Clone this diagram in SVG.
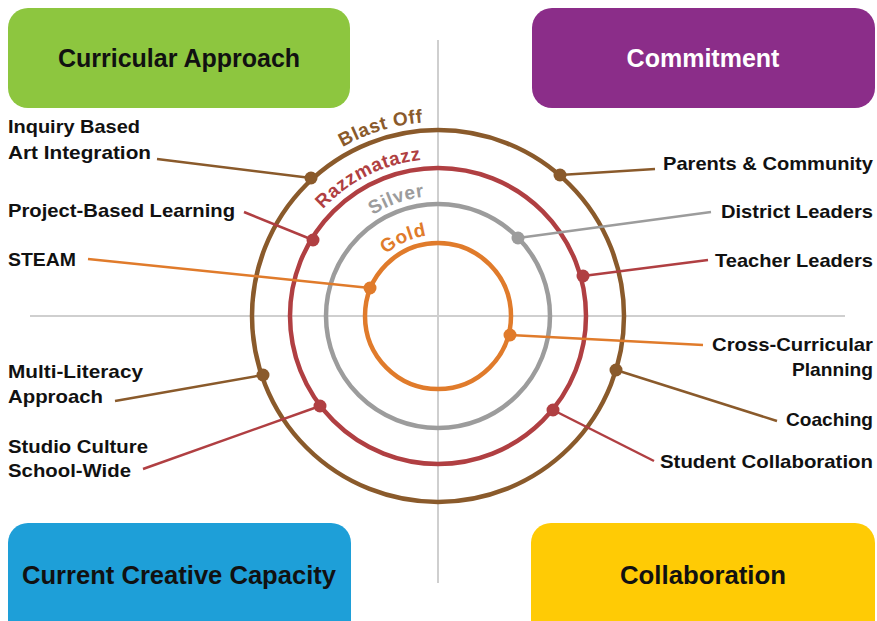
<svg xmlns="http://www.w3.org/2000/svg" width="877" height="621" viewBox="0 0 877 621">
<style>
.box-t{font-family:"Liberation Sans",Arial,sans-serif;font-weight:bold;font-size:25px;text-anchor:middle}
.lbl{font-family:"Liberation Sans",Arial,sans-serif;font-weight:bold;font-size:19px;fill:#111}
.r{text-anchor:end}
.ring{fill:none;stroke-width:4.5}
.arc{font-family:"Liberation Sans",Arial,sans-serif;font-weight:bold;font-size:19px;text-anchor:middle;letter-spacing:0.6px}
.ln{stroke-width:2.5;fill:none}
.axis{stroke:#cfcfcf;stroke-width:2}
.brown{stroke:#8A5A2B}.red{stroke:#B03F42}.gray{stroke:#9C9C9C}.orange{stroke:#E07B2B}
.fbrown{fill:#8A5A2B}.fred{fill:#B03F42}.fgray{fill:#9C9C9C}.forange{fill:#E07B2B}
</style>
<defs>
<path id="pBlast" d="M244,316 A194,194 0 0 1 632,316"/>
<path id="pRazz" d="M281,316 A157,157 0 0 1 595,316"/>
<path id="pSilver" d="M318,316 A120,120 0 0 1 558,316"/>
<path id="pGold" d="M357,316 A81,81 0 0 1 519,316"/>
</defs>
<rect width="877" height="621" fill="#fff"/>
<g id="axes">
<line class="axis" x1="438" y1="40" x2="438" y2="583"/>
<line class="axis" x1="30" y1="316" x2="845" y2="316"/>
</g>
<g id="box-curricular">
<rect x="8" y="8" width="342" height="100" rx="20" fill="#8DC63F"/>
<text class="box-t" x="179" y="67" fill="#111">Curricular Approach</text>
</g>
<g id="box-commitment">
<rect x="532" y="8" width="343" height="100" rx="20" fill="#8B2D89"/>
<text class="box-t" x="703" y="67" fill="#fff">Commitment</text>
</g>
<g id="box-capacity">
<rect x="8" y="523" width="343" height="120" rx="20" fill="#1E9FD8"/>
<text class="box-t" x="179" y="584" fill="#111" textLength="314" lengthAdjust="spacingAndGlyphs">Current Creative Capacity</text>
</g>
<g id="box-collaboration">
<rect x="531" y="523" width="344" height="120" rx="20" fill="#FFCB05"/>
<text class="box-t" x="703" y="584" fill="#111" textLength="166" lengthAdjust="spacingAndGlyphs">Collaboration</text>
</g>
<g id="rings">
<circle class="ring brown" cx="438" cy="316" r="186"/>
<circle class="ring red" cx="438" cy="316" r="148"/>
<circle class="ring gray" cx="438" cy="316" r="112"/>
<circle class="ring orange" cx="438" cy="316" r="73"/>
<text class="arc fbrown"><textPath href="#pBlast" startOffset="40.6%">Blast Off</textPath></text>
<text class="arc fred"><textPath href="#pRazz" startOffset="35.2%">Razzmatazz</textPath></text>
<text class="arc fgray"><textPath href="#pSilver" startOffset="39.1%">Silver</textPath></text>
<text class="arc forange"><textPath href="#pGold" startOffset="36.6%">Gold</textPath></text>
</g>
<g id="connectors">
<line class="ln brown" x1="157" y1="159" x2="311" y2="178"/>
<line class="ln red" x1="244" y1="212" x2="313" y2="240"/>
<line class="ln orange" x1="88" y1="259" x2="370" y2="288"/>
<line class="ln brown" x1="655" y1="169" x2="560" y2="175"/>
<line class="ln gray" x1="711" y1="212" x2="518" y2="238"/>
<line class="ln red" x1="708" y1="260" x2="583" y2="276"/>
<line class="ln orange" x1="703" y1="345" x2="510" y2="335"/>
<line class="ln brown" x1="777" y1="421" x2="616" y2="370"/>
<line class="ln red" x1="654" y1="461" x2="553" y2="410"/>
<line class="ln brown" x1="115" y1="401" x2="263" y2="375"/>
<line class="ln red" x1="143" y1="469" x2="320" y2="406"/>
<circle class="fbrown" cx="311" cy="178" r="6.5"/>
<circle class="fred" cx="313" cy="240" r="6.5"/>
<circle class="forange" cx="370" cy="288" r="6.5"/>
<circle class="fbrown" cx="560" cy="175" r="6.5"/>
<circle class="fgray" cx="518" cy="238" r="6.5"/>
<circle class="fred" cx="583" cy="276" r="6.5"/>
<circle class="forange" cx="510" cy="335" r="6.5"/>
<circle class="fbrown" cx="616" cy="370" r="6.5"/>
<circle class="fred" cx="553" cy="410" r="6.5"/>
<circle class="fbrown" cx="263" cy="375" r="6.5"/>
<circle class="fred" cx="320" cy="406" r="6.5"/>
</g>
<g id="lbl-inquiry"><text class="lbl" x="8" y="133" textLength="132" lengthAdjust="spacingAndGlyphs">Inquiry Based</text><text class="lbl" x="8" y="159" textLength="143" lengthAdjust="spacingAndGlyphs">Art Integration</text></g>
<g id="lbl-project"><text class="lbl" x="8" y="217" textLength="227" lengthAdjust="spacingAndGlyphs">Project-Based Learning</text></g>
<g id="lbl-steam"><text class="lbl" x="8" y="266" textLength="68" lengthAdjust="spacingAndGlyphs">STEAM</text></g>
<g id="lbl-parents"><text class="lbl r" x="873" y="170" textLength="210" lengthAdjust="spacingAndGlyphs">Parents &amp; Community</text></g>
<g id="lbl-district"><text class="lbl r" x="873" y="218" textLength="152" lengthAdjust="spacingAndGlyphs">District Leaders</text></g>
<g id="lbl-teacher"><text class="lbl r" x="873" y="267" textLength="158" lengthAdjust="spacingAndGlyphs">Teacher Leaders</text></g>
<g id="lbl-cross"><text class="lbl r" x="873" y="351" textLength="161" lengthAdjust="spacingAndGlyphs">Cross-Curricular</text><text class="lbl r" x="873" y="376" textLength="81" lengthAdjust="spacingAndGlyphs">Planning</text></g>
<g id="lbl-coaching"><text class="lbl r" x="873" y="426" textLength="87" lengthAdjust="spacingAndGlyphs">Coaching</text></g>
<g id="lbl-student"><text class="lbl r" x="873" y="468" textLength="213" lengthAdjust="spacingAndGlyphs">Student Collaboration</text></g>
<g id="lbl-multi"><text class="lbl" x="8" y="378" textLength="135" lengthAdjust="spacingAndGlyphs">Multi-Literacy</text><text class="lbl" x="8" y="403" textLength="95" lengthAdjust="spacingAndGlyphs">Approach</text></g>
<g id="lbl-studio"><text class="lbl" x="8" y="453" textLength="140" lengthAdjust="spacingAndGlyphs">Studio Culture</text><text class="lbl" x="8" y="477" textLength="123" lengthAdjust="spacingAndGlyphs">School-Wide</text></g>
</svg>
